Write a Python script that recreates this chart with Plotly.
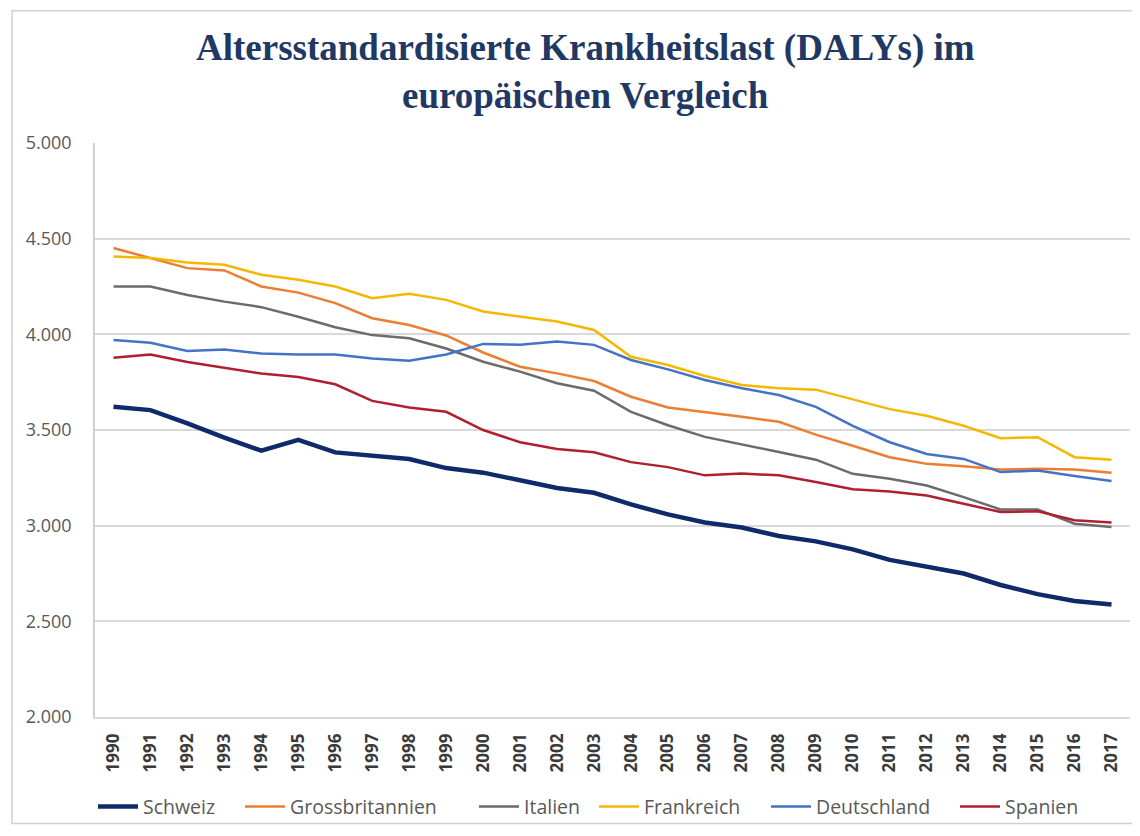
import plotly.graph_objects as go

years = [str(y) for y in range(1990, 2018)]

schweiz = [3621, 3604, 3535, 3460, 3392, 3448, 3383, 3365, 3348, 3301, 3277, 3237, 3197, 3172,
           3111, 3059, 3017, 2990, 2946, 2918, 2876, 2821, 2786, 2750, 2690, 2642, 2606, 2588]
grossbritannien = [4451, 4399, 4346, 4334, 4250, 4218, 4163, 4084, 4049, 3994, 3905, 3831, 3796, 3756,
                   3674, 3618, 3595, 3569, 3543, 3476, 3418, 3358, 3323, 3311, 3293, 3297, 3293, 3276]
italien = [4250, 4250, 4206, 4171, 4142, 4092, 4037, 3996, 3979, 3926, 3857, 3805, 3744, 3705,
           3595, 3525, 3464, 3426, 3385, 3345, 3271, 3245, 3210, 3149, 3085, 3085, 3010, 2993]
frankreich = [4407, 4399, 4376, 4364, 4311, 4285, 4250, 4189, 4212, 4180, 4119, 4093, 4067, 4023,
              3883, 3840, 3782, 3735, 3718, 3711, 3661, 3609, 3574, 3522, 3457, 3462, 3358, 3345]
deutschland = [3970, 3956, 3913, 3921, 3900, 3895, 3895, 3874, 3862, 3895, 3950, 3945, 3962, 3945,
               3866, 3817, 3761, 3718, 3683, 3621, 3522, 3436, 3375, 3349, 3280, 3288, 3259, 3233]
spanien = [3878, 3895, 3855, 3826, 3795, 3777, 3739, 3652, 3618, 3595, 3500, 3436, 3401, 3384,
           3332, 3306, 3263, 3272, 3263, 3228, 3190, 3179, 3158, 3115, 3071, 3075, 3028, 3016]

series = [
    ("Schweiz", schweiz, "#10296B", 4.5),
    ("Grossbritannien", grossbritannien, "#ED7D31", 2.5),
    ("Italien", italien, "#6B6B6B", 2.5),
    ("Frankreich", frankreich, "#F5B800", 2.5),
    ("Deutschland", deutschland, "#4472C4", 2.5),
    ("Spanien", spanien, "#B01F2E", 2.5),
]
# screen x where each legend entry's text begins
legend_text_x = [145, 292, 526, 646, 818, 1007]

title_lines = ["Altersstandardisierte Krankheitslast (DALYs) im", "europäischen Vergleich"]

# page body has an 8px margin; work in screen coordinates and shift
OFF = 8
W, H = 1140 - OFF, 836 - OFF
PL, PR, PT, PB = 95, 1130, 143, 725  # plot area in screen pixels
L, R, T, B = PL - OFF, W - (PR - OFF), PT - OFF, H - (PB - OFF)
pw, ph = PR - PL, PB - PT


def px(x):
    return (x - PL) / pw


def py(y):
    return (PB - y) / ph


fig = go.Figure()
legends = {}
for i, ((name, vals, color, width), tx) in enumerate(zip(series, legend_text_x)):
    key = "legend" if i == 0 else f"legend{i + 1}"
    fig.add_trace(go.Scatter(x=years, y=vals, name=name, mode="lines",
                             line=dict(color=color, width=width), legend=key))
    legends[key] = dict(orientation="h", x=px(tx - 52), xanchor="left",
                        y=py(816), yanchor="middle", bgcolor="rgba(0,0,0,0)",
                        font=dict(family="Open Sans", size=19.5, color="#595959"),
                        itemwidth=40)

fig.update_layout(
    width=W, height=H,
    margin=dict(l=L, r=R, t=T, b=B),
    paper_bgcolor="white", plot_bgcolor="white",
    separators=",.",
    showlegend=True,
    xaxis=dict(type="category", range=[-0.5, 27.5], showgrid=False,
               showline=True, linecolor="#d9d9d9", linewidth=1.5,
               tickangle=-90, ticks="",
               tickfont=dict(family="Open Sans", size=17, color="#3a3a3a", weight="bold"),
               ticklabelstandoff=8),
    yaxis=dict(range=[2000, 5000], dtick=500, tickformat=",d",
               showgrid=True, gridcolor="#d9d9d9", gridwidth=1.5,
               showline=True, linecolor="#d0d0d0", linewidth=1.5,
               zeroline=False, ticks="",
               tickfont=dict(family="Open Sans", size=18, color="#595959"),
               ticklabelstandoff=18),
    shapes=[dict(type="rect", xref="paper", yref="paper",
                 x0=px(12), x1=px(1137), y0=py(833), y1=py(9),
                 line=dict(color="#d0d0d0", width=1.5), layer="below")],
    **legends,
)

for txt, yc in zip(title_lines, [47, 95]):
    fig.add_annotation(text=txt, xref="paper", yref="paper", x=px(585), y=py(yc),
                       xanchor="center", yanchor="middle", showarrow=False,
                       font=dict(family="Liberation Serif", size=37, color="#1F3864", weight="bold"))

fig.write_html("out.html")
